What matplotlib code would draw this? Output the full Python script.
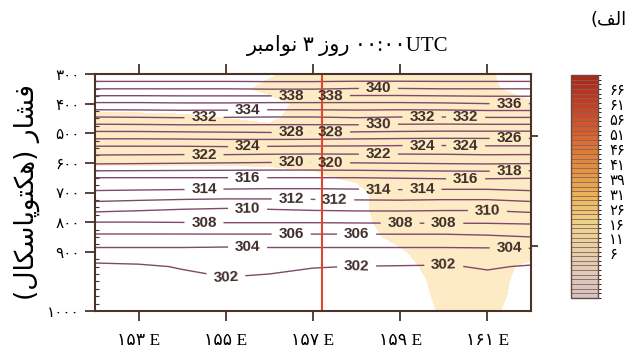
import numpy as np
import matplotlib
matplotlib.use("Agg")
import matplotlib.pyplot as plt
from matplotlib.colors import LinearSegmentedColormap, BoundaryNorm, ListedColormap
from matplotlib.cm import ScalarMappable
from matplotlib.ticker import MultipleLocator

# grid of the cross section
lons = [152, 153, 154, 155, 156, 157, 158, 159, 160, 161, 162]
levels_p = [300, 350, 400, 450, 500, 550, 600, 650, 700, 750, 800, 850, 900, 950, 1000, 1050, 1100]

# potential temperature (K), one row per pressure level
theta_rows = [
    [344.0, 344.0, 344.0, 344.0, 344.0, 344.0, 344.0, 344.0, 344.0, 344.0, 344.0],
    [340.0, 340.0, 340.0, 340.0, 340.1, 340.1, 339.9, 339.9, 340.0, 340.0, 340.0],
    [335.7, 335.7, 335.8, 335.8, 335.7, 335.7, 335.7, 335.7, 335.8, 336.0, 336.0],
    [331.6, 331.7, 331.8, 331.7, 331.6, 331.6, 331.8, 331.6, 331.6, 331.7, 331.7],
    [327.5, 327.5, 327.6, 327.7, 327.8, 327.8, 327.6, 327.5, 327.4, 327.4, 327.4],
    [323.5, 323.5, 323.5, 323.6, 323.5, 323.4, 323.4, 323.3, 323.3, 323.4, 323.4],
    [320.3, 320.2, 320.1, 320.0, 319.9, 319.9, 320.0, 320.1, 320.2, 320.3, 320.2],
    [316.0, 316.0, 316.0, 316.0, 316.0, 316.0, 316.0, 316.1, 316.2, 316.2, 316.1],
    [313.7, 313.6, 313.5, 313.4, 313.3, 313.3, 313.4, 313.5, 313.4, 313.4, 313.7],
    [310.9, 310.6, 310.3, 310.15, 310.3, 310.5, 310.6, 310.6, 310.5, 310.5, 310.9],
    [308.0, 308.0, 308.05, 308.1, 308.1, 308.1, 308.15, 308.2, 308.2, 308.2, 308.3],
    [305.5, 305.5, 305.5, 305.5, 305.5, 305.5, 305.5, 305.5, 305.5, 305.7, 306.0],
    [303.4, 303.4, 303.4, 303.3, 303.4, 303.4, 303.4, 303.4, 303.4, 303.4, 303.4],
    [301.56, 301.73, 302.12, 302.5, 302.4, 302.08, 301.97, 301.91, 301.84, 302.18, 301.84],
    [301.0, 301.0, 301.5, 301.8, 301.6, 301.3, 301.0, 301.0, 301.0, 301.4, 301.0],
    [300.5, 300.5, 300.5, 300.5, 300.5, 300.5, 300.5, 300.5, 300.5, 300.5, 300.5],
    [300.0, 300.0, 300.0, 300.0, 300.0, 300.0, 300.0, 300.0, 300.0, 300.0, 300.0],
]

# shaded field (only the part above 15 shows as cream)
moist_rows = [
    [10, 10, 10, 10, 14, 18, 20, 20, 20, 16, 10],
    [10, 10, 10, 12, 17, 20, 20, 20, 20, 17, 10],
    [10, 10, 10, 10, 12, 18, 20, 18, 16, 16, 16],
    [18, 18, 17, 15, 14, 18, 20, 20, 20, 20, 20],
    [20, 20, 20, 19, 17, 18, 20, 20, 20, 20, 20],
    [20, 20, 20, 20, 19, 18, 20, 20, 20, 20, 20],
    [16, 16, 16, 16, 16, 16, 17, 19, 20, 20, 20],
    [10, 10, 10, 10, 12, 14, 16, 18, 20, 20, 20],
    [10, 10, 10, 10, 10, 10, 13, 20, 20, 20, 20],
    [10, 10, 10, 10, 10, 10, 13, 20, 20, 20, 20],
    [10, 10, 10, 10, 10, 10, 12, 20, 20, 20, 20],
    [10, 10, 10, 10, 10, 10, 12, 17, 20, 20, 20],
    [10, 10, 10, 10, 10, 10, 10, 14, 20, 20, 19],
    [10, 10, 10, 10, 10, 10, 10, 11, 20, 20, 12],
    [10, 10, 10, 10, 10, 10, 10, 10, 18, 20, 10],
    [10, 10, 10, 10, 10, 10, 10, 10, 17, 19, 10],
    [10, 10, 10, 10, 10, 10, 10, 10, 16, 17, 10],
]

theta_levels = list(range(302, 348, 2))
red_line_lon = 157.2

xtick_vals = [153, 155, 157, 159, 161]
ytick_vals = [300, 400, 500, 600, 700, 800, 900, 1100]
ytick_text = ["300", "400", "500", "600", "700", "800", "900", "1000"]
cbar_text = ["6", "11", "16", "26", "31", "39", "41", "46", "51", "56", "61", "66"]

# where the contour labels sit (lon, hPa)
label_spots = [
    (154.5, 438), (155.5, 422), (156.5, 378), (157.4, 381), (158.5, 354), (161.5, 398),
    (159.5, 445), (160.5, 445), (156.5, 496), (157.4, 496), (158.5, 472), (161.5, 513),
    (154.5, 564), (155.5, 540), (156.5, 597), (157.4, 600), (158.5, 567), (159.5, 547),
    (160.5, 547), (161.5, 628), (155.5, 651), (160.5, 658), (154.5, 685), (158.5, 692),
    (159.5, 692), (156.5, 722), (157.5, 722), (155.5, 753), (161.0, 760), (154.5, 797),
    (159.0, 793), (160.0, 793), (156.5, 837), (158.0, 837), (155.5, 888), (161.5, 884),
    (155.0, 986), (158.0, 949), (160.0, 945),
]

FA_DIGITS = str.maketrans("0123456789", "۰۱۲۳۴۵۶۷۸۹")

FORMS = {
    'ا': ('\uFE8D', '\uFE8E', None, None),
    'ب': ('\uFE8F', '\uFE90', '\uFE91', '\uFE92'),
    'پ': ('\uFB56', '\uFB57', '\uFB58', '\uFB59'),
    'ت': ('\uFE95', '\uFE96', '\uFE97', '\uFE98'),
    'ر': ('\uFEAD', '\uFEAE', None, None),
    'ز': ('\uFEAF', '\uFEB0', None, None),
    'س': ('\uFEB1', '\uFEB2', '\uFEB3', '\uFEB4'),
    'ش': ('\uFEB5', '\uFEB6', '\uFEB7', '\uFEB8'),
    'ف': ('\uFED1', '\uFED2', '\uFED3', '\uFED4'),
    'ک': ('\uFB8E', '\uFB8F', '\uFB90', '\uFB91'),
    'ل': ('\uFEDD', '\uFEDE', '\uFEDF', '\uFEE0'),
    'م': ('\uFEE1', '\uFEE2', '\uFEE3', '\uFEE4'),
    'ن': ('\uFEE5', '\uFEE6', '\uFEE7', '\uFEE8'),
    'ه': ('\uFEE9', '\uFEEA', '\uFEEB', '\uFEEC'),
    'و': ('\uFEED', '\uFEEE', None, None),
}


def shape(word):
    # joined letter forms, in visual (left to right) order
    out = []
    for i, ch in enumerate(word):
        iso, fin, ini, med = FORMS[ch]
        prev_joins = i > 0 and FORMS[word[i - 1]][2] is not None
        next_joins = i < len(word) - 1 and ini is not None
        if prev_joins and next_joins:
            out.append(med)
        elif prev_joins:
            out.append(fin)
        elif next_joins:
            out.append(ini)
        else:
            out.append(iso)
    return "".join(reversed(out))


fa_font = ["DejaVu Sans"]
serif_fa = ["Liberation Serif", "DejaVu Sans"]
line_col = "#80496a"
axis_col = "#4a3328"

fig = plt.figure(figsize=(6.33, 3.54), dpi=100)
ax = fig.add_axes([95 / 633, 1 - 311 / 354, 436 / 633, 237 / 354])

X, P = np.meshgrid(lons, levels_p)
theta = np.array(theta_rows)
moist = np.array(moist_rows)

ax.contourf(X, P, moist, levels=[15, 100], colors=["#fdebc6"])
cs = ax.contour(X, P, theta, levels=theta_levels, colors=line_col, linewidths=1.0)
lab = ax.clabel(cs, manual=label_spots, inline=True, fmt="%d", fontsize=11,
                colors="#3f2f2b", inline_spacing=5)
for t in lab:
    t.set_family("Liberation Sans")
    t.set_weight("bold")

ax.axvline(red_line_lon, color="#e2462a", lw=1.5)

ax.set_xlim(152, 162)
ax.set_ylim(1100, 300)
ax.set_xticks(xtick_vals)
ax.set_xticklabels([str(v).translate(FA_DIGITS) + " E" for v in xtick_vals],
                   family=serif_fa, fontsize=12.5)
ax.set_yticks(ytick_vals)
ax.set_yticklabels([s.translate(FA_DIGITS) for s in ytick_text], family=fa_font, fontsize=11)
ax.yaxis.set_minor_locator(MultipleLocator(25))
ax.tick_params(which="major", direction="out", length=7, width=1.3, color=axis_col,
               top=True, right=False, pad=4)
ax.tick_params(axis="x", which="major", pad=9)
ax.tick_params(which="minor", left=False, right=True, direction="in", length=3,
               width=0.8, color=axis_col)
ax.tick_params(axis="x", which="minor", bottom=False, top=False)
for s in ax.spines.values():
    s.set_color(axis_col)
    s.set_linewidth(1.5)

ax2 = ax.twinx()
ax2.set_ylim(1100, 300)
ax2.set_yticks([510, 880])
ax2.set_yticklabels([])
ax2.tick_params(direction="out", length=5, width=1.3, color=axis_col)
for s in ax2.spines.values():
    s.set_visible(False)

ax.set_ylabel("(" + shape("هکتوپاسکال") + ") " + shape("فشار"), family=fa_font,
              fontsize=19, labelpad=5)

fig.text(348 / 633, 1 - 46 / 354,
         shape("نوامبر") + " ۳ " + shape("روز") + " ۰۰:۰۰UTC",
         ha="center", va="center", fontsize=15, family=serif_fa)
fig.text(609 / 633, 1 - 20 / 354, "(" + shape("الف"), ha="center", va="center",
         fontsize=13, family=fa_font)

# colour bar
anchors = ["#d4c4c2", "#ddcbbb", "#e6d2a6", "#ecd38c", "#e9b95e", "#e39a44",
           "#dc7a35", "#d2582b", "#c03d24", "#a82a1c"]
nb = 48
cmap = ListedColormap(LinearSegmentedColormap.from_list("rh", anchors)(np.linspace(0, 1, nb)))
cax = fig.add_axes([571 / 633, 1 - 298 / 354, 27 / 633, 223 / 354])
cb = fig.colorbar(ScalarMappable(norm=BoundaryNorm(np.arange(nb + 1), nb), cmap=cmap),
                  cax=cax, drawedges=True)
cb.dividers.set_color("#8c6058")
cb.dividers.set_linewidth(0.6)
cb.outline.set_edgecolor("#6a4a40")
cb.outline.set_linewidth(1.0)
cb.set_ticks(np.linspace(0.2 * nb, 0.937 * nb, len(cbar_text)))
cb.set_ticklabels([s.translate(FA_DIGITS) for s in cbar_text])
cax.tick_params(length=0, pad=8)
for t in cax.get_yticklabels():
    t.set_family(fa_font)
    t.set_fontsize(10.5)

fig.savefig("out.png", dpi=100)
